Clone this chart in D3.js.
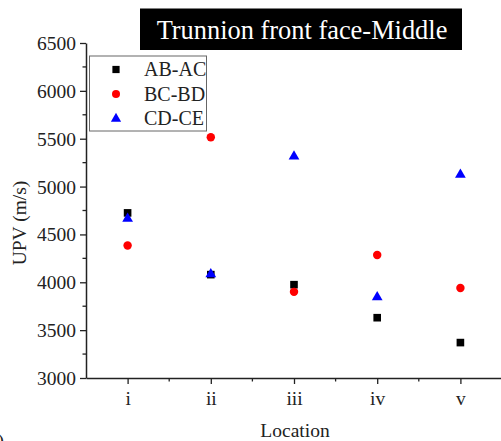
<!DOCTYPE html>
<html>
<head>
<meta charset="utf-8">
<script src="https://cdn.jsdelivr.net/npm/d3@7/dist/d3.min.js"></script>
<style>
  html, body { margin: 0; padding: 0; background: #fff; }
  svg { display: block; font-family: "Liberation Serif", "Times New Roman", serif; }
</style>
</head>
<body>
<svg id="chart" width="501" height="441"></svg>
<script>
// Ultrasonic pulse velocity at five locations, trunnion front face (middle)
const locations = ["i", "ii", "iii", "iv", "v"];
const abAc = [4725, 4080, 3975, 3630, 3370];
const bcBd = [4385, 5515, 3900, 4285, 3940];
const cdCe = [4665, 4085, 5315, 3845, 5125];
const yTicks = [3000, 3500, 4000, 4500, 5000, 5500, 6000, 6500];

const series = [
  { name: "AB-AC", values: abAc, color: "#000000", shape: d3.symbolSquare, size: 58 },
  { name: "BC-BD", values: bcBd, color: "#ff0000", shape: d3.symbolCircle, size: 56 },
  { name: "CD-CE", values: cdCe, color: "#0000ff", shape: d3.symbolTriangle, size: 50 }
];

const svg = d3.select("#chart");
const plot = { left: 86, right: 502, top: 43, bottom: 378 };
const labelSize = 19.5;

const x = d3.scaleLinear().domain([0.5, 5.5]).range([plot.left, plot.right]);
const y = d3.scaleLinear().domain([3000, 6500]).range([plot.bottom, plot.top]);

// Y axis with minor ticks
const yAxis = svg.append("g").attr("transform", `translate(${plot.left},0)`);
yAxis.call(d3.axisLeft(y).tickValues(yTicks).tickSize(6).tickSizeOuter(0).tickFormat(d3.format("d")));
yAxis.append("g").selectAll("line")
  .data(d3.range(3250, 6500, 500))
  .join("line")
  .attr("x1", -3.5).attr("x2", 0)
  .attr("y1", d => y(d)).attr("y2", d => y(d))
  .attr("stroke", "#222").attr("stroke-width", 1.3);

// X axis with minor ticks
const xAxis = svg.append("g").attr("transform", `translate(0,${plot.bottom})`);
xAxis.call(d3.axisBottom(x).tickValues(d3.range(1, 6)).tickSize(6).tickSizeOuter(0)
  .tickFormat((d, i) => locations[i]));
xAxis.append("g").selectAll("line")
  .data(d3.range(1.5, 5.5, 1))
  .join("line")
  .attr("y1", 0).attr("y2", 3.5)
  .attr("x1", d => x(d)).attr("x2", d => x(d))
  .attr("stroke", "#222").attr("stroke-width", 1.3);

svg.selectAll(".domain").attr("stroke", "#222").attr("stroke-width", 1.5);
svg.selectAll(".tick line").attr("stroke", "#222").attr("stroke-width", 1.3);
svg.selectAll(".tick text")
  .attr("font-family", "Liberation Serif, Times New Roman, serif")
  .attr("font-size", labelSize).attr("fill", "#222");
yAxis.selectAll(".tick text").attr("x", -10).attr("dy", "0.33em");
xAxis.selectAll(".tick text").attr("y", 13);

// Axis titles
svg.append("text")
  .attr("transform", "translate(26,223) rotate(-90)")
  .attr("text-anchor", "middle")
  .attr("font-size", labelSize).attr("fill", "#222")
  .text("UPV (m/s)");
svg.append("text")
  .attr("x", 295).attr("y", 437)
  .attr("text-anchor", "middle")
  .attr("font-size", labelSize).attr("fill", "#222")
  .text("Location");

// Panel label, partly outside the page
svg.append("text")
  .attr("x", 4).attr("y", 447)
  .attr("text-anchor", "end")
  .attr("font-size", labelSize).attr("fill", "#222")
  .text("(a)");

// Data points
series.forEach(s => {
  svg.append("g").selectAll("path")
    .data(s.values)
    .join("path")
    .attr("transform", (d, i) => `translate(${x(i + 1)},${y(d)})`)
    .attr("d", d3.symbol().type(s.shape).size(s.size))
    .attr("fill", s.color);
});

// Legend
const legend = svg.append("g");
legend.append("rect")
  .attr("x", 89.5).attr("y", 56).attr("width", 117).attr("height", 75)
  .attr("fill", "#fff").attr("stroke", "#666").attr("stroke-width", 1);
series.forEach((s, i) => {
  const ly = 69.5 + i * 24.6;
  legend.append("path")
    .attr("transform", `translate(116,${ly})`)
    .attr("d", d3.symbol().type(s.shape).size(s.size * 0.9))
    .attr("fill", s.color);
  legend.append("text")
    .attr("x", 144).attr("y", ly + 6.5)
    .attr("font-size", 20).attr("fill", "#222")
    .text(s.name);
});

// Title banner
const titleG = svg.append("g");
titleG.append("rect")
  .attr("x", 140).attr("y", 8.5).attr("width", 322).attr("height", 41.5)
  .attr("fill", "#000");
titleG.append("text")
  .attr("x", 302).attr("y", 38.5)
  .attr("text-anchor", "middle")
  .attr("font-size", 26.4).attr("fill", "#fff")
  .text("Trunnion front face-Middle");
</script>
</body>
</html>
